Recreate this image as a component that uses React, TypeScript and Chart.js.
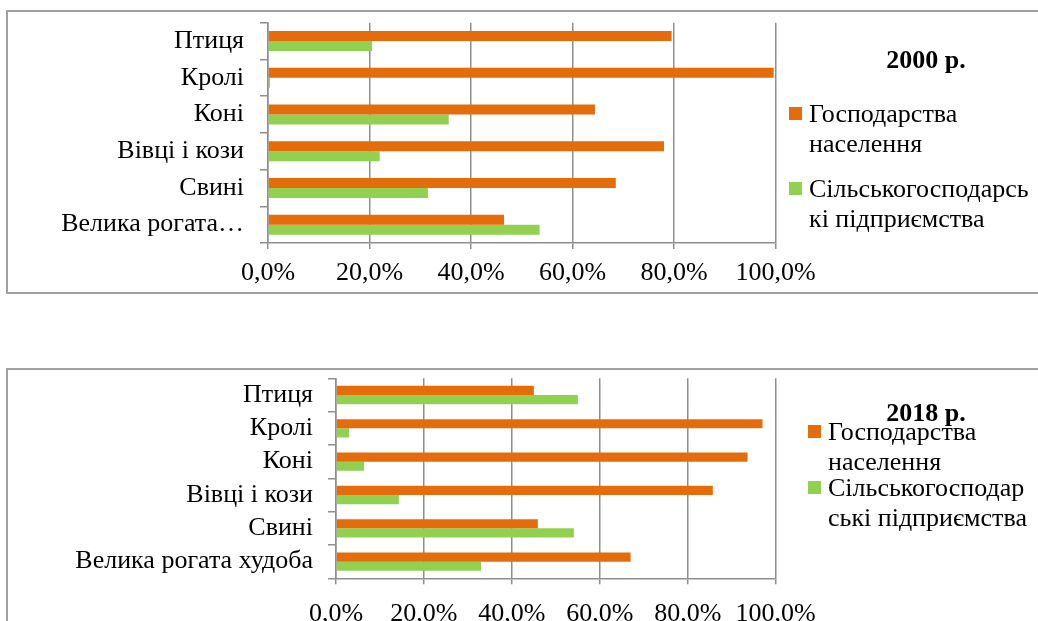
import React, { useEffect, useRef } from 'react';
import { Chart, registerables } from 'chart.js';

Chart.register(...registerables);

// ---- data ----
const categories = ['Птиця', 'Кролі', 'Коні', 'Вівці і кози', 'Свині', 'Велика рогата худоба'];
const tickLabels2000 = ['Птиця', 'Кролі', 'Коні', 'Вівці і кози', 'Свині', 'Велика рогата…'];
const tickLabels2018 = categories;
const seriesNames = ['Господарства населення', 'Сільськогосподарські підприємства'];
const households2000 = [79.5, 99.6, 64.4, 78.0, 68.5, 46.5];
const enterprises2000 = [20.5, 0.4, 35.6, 22.0, 31.5, 53.5];
const households2018 = [45.0, 97.0, 93.6, 85.7, 45.9, 67.0];
const enterprises2018 = [55.0, 3.0, 6.4, 14.3, 54.1, 33.0];
const xTickValues = [0, 20, 40, 60, 80, 100];
const title2000 = '2000 р.';
const title2018 = '2018 р.';
const legend2000 = [['Господарства', 'населення'], ['Сільськогосподарсь', 'кі підприємства']];
const legend2018 = [['Господарства', 'населення'], ['Сільськогосподар', 'ські підприємства']];

const ORANGE = '#E46C0A';
const GREEN = '#92D050';
const GRID = '#8e8e8e';
const FONT = "'Liberation Serif', 'Times New Roman', serif";

type Geo = {
  left: number; top: number; width: number; height: number;
  yWidth: number; xHeight: number; padTop: number; padRight: number;
  yPad: number; xPad: number; catPct: number;
};

function BarChart({ labels, hh, ent, geo }: { labels: string[]; hh: number[]; ent: number[]; geo: Geo }) {
  const ref = useRef<HTMLCanvasElement | null>(null);
  useEffect(() => {
    if (!ref.current) return;
    const chart = new Chart(ref.current, {
      type: 'bar',
      data: {
        labels,
        datasets: [
          { label: seriesNames[0], data: hh, backgroundColor: ORANGE, categoryPercentage: geo.catPct, barPercentage: 1 },
          { label: seriesNames[1], data: ent, backgroundColor: GREEN, categoryPercentage: geo.catPct, barPercentage: 1 },
        ],
      },
      options: {
        indexAxis: 'y',
        responsive: false,
        animation: false,
        layout: { padding: { top: geo.padTop, right: geo.padRight, bottom: 0, left: 0 } },
        plugins: { legend: { display: false }, tooltip: { enabled: false }, title: { display: false } },
        scales: {
          x: {
            min: 0,
            max: 100,
            afterBuildTicks: (s: any) => { s.ticks = xTickValues.map((v) => ({ value: v })); },
            afterFit: (s: any) => {
              s.height = geo.xHeight;
              s.paddingLeft = 0; s.paddingRight = 0; s.paddingTop = 0; s.paddingBottom = 0;
            },
            ticks: {
              color: '#000',
              padding: geo.xPad,
              maxRotation: 0,
              autoSkip: false,
              font: { family: FONT, size: 26 },
              callback: (v: any) => Number(v).toFixed(1).replace('.', ',') + '%',
            },
            grid: { color: GRID, lineWidth: 1.5, drawTicks: true, tickLength: 6 },
            border: { display: true, color: GRID, width: 1.5 },
          },
          y: {
            afterFit: (s: any) => {
              s.width = geo.yWidth;
              s.paddingTop = 0; s.paddingBottom = 0; s.paddingLeft = 0; s.paddingRight = 0;
            },
            ticks: { color: '#000', padding: geo.yPad, autoSkip: false, font: { family: FONT, size: 26 } },
            grid: { color: GRID, lineWidth: 1.5, drawOnChartArea: false, drawTicks: true, tickLength: 8, offset: true },
            border: { display: true, color: GRID, width: 1.5 },
          },
        },
      } as any,
    });
    return () => chart.destroy();
  }, []);
  return (
    <canvas
      ref={ref}
      width={geo.width}
      height={geo.height}
      style={{ position: 'absolute', left: geo.left, top: geo.top, width: geo.width, height: geo.height }}
    />
  );
}

const textStyle: React.CSSProperties = {
  position: 'absolute',
  fontFamily: FONT,
  fontSize: 26,
  lineHeight: '30px',
  color: '#000',
  whiteSpace: 'nowrap',
};

function Legend({ title, items, titleTop, sqLeft, sqTops, textLeft, textTops }: {
  title: string; items: string[][]; titleTop: number; sqLeft: number; sqTops: number[]; textLeft: number; textTops: number[];
}) {
  const colors = [ORANGE, GREEN];
  return (
    <>
      <div style={{ ...textStyle, left: 826, width: 200, top: titleTop, textAlign: 'center', fontWeight: 'bold' }}>{title}</div>
      {items.map((lines, i) => (
        <React.Fragment key={i}>
          <div style={{ position: 'absolute', left: sqLeft, top: sqTops[i], width: 13, height: 13, background: colors[i] }} />
          <div style={{ ...textStyle, left: textLeft, top: textTops[i] }}>
            {lines.map((l, j) => (<div key={j}>{l}</div>))}
          </div>
        </React.Fragment>
      ))}
    </>
  );
}

export default function App() {
  const boxStyle: React.CSSProperties = {
    position: 'absolute',
    boxSizing: 'border-box',
    border: '2px solid #a0a0a0',
    background: '#fff',
  };
  return (
    <div style={{ position: 'absolute', left: 0, top: 0, width: 1038, height: 621, overflow: 'hidden', background: '#fff' }}>
      <div style={{ ...boxStyle, left: 6, top: 10, width: 1040, height: 284 }} />
      <div style={{ ...boxStyle, left: 6, top: 368, width: 1040, height: 300 }} />
      <BarChart
        labels={tickLabels2000}
        hh={households2000}
        ent={enterprises2000}
        geo={{ left: 8, top: 12, width: 1030, height: 281, yWidth: 260, xHeight: 50, padTop: 10.7, padRight: 262.3, yPad: 16, xPad: 9, catPct: 0.545 }}
      />
      <BarChart
        labels={tickLabels2018}
        hh={households2018}
        ent={enterprises2018}
        geo={{ left: 8, top: 370, width: 1030, height: 251, yWidth: 328, xHeight: 42.7, padTop: 8.3, padRight: 262.3, yPad: 15, xPad: 14, catPct: 0.55 }}
      />
      <Legend title={title2000} items={legend2000} titleTop={44.5} sqLeft={789} sqTops={[107, 182]} textLeft={809} textTops={[99, 174]} />
      <Legend title={title2018} items={legend2018} titleTop={398} sqLeft={808} sqTops={[425, 481]} textLeft={828} textTops={[417, 473]} />
    </div>
  );
}
